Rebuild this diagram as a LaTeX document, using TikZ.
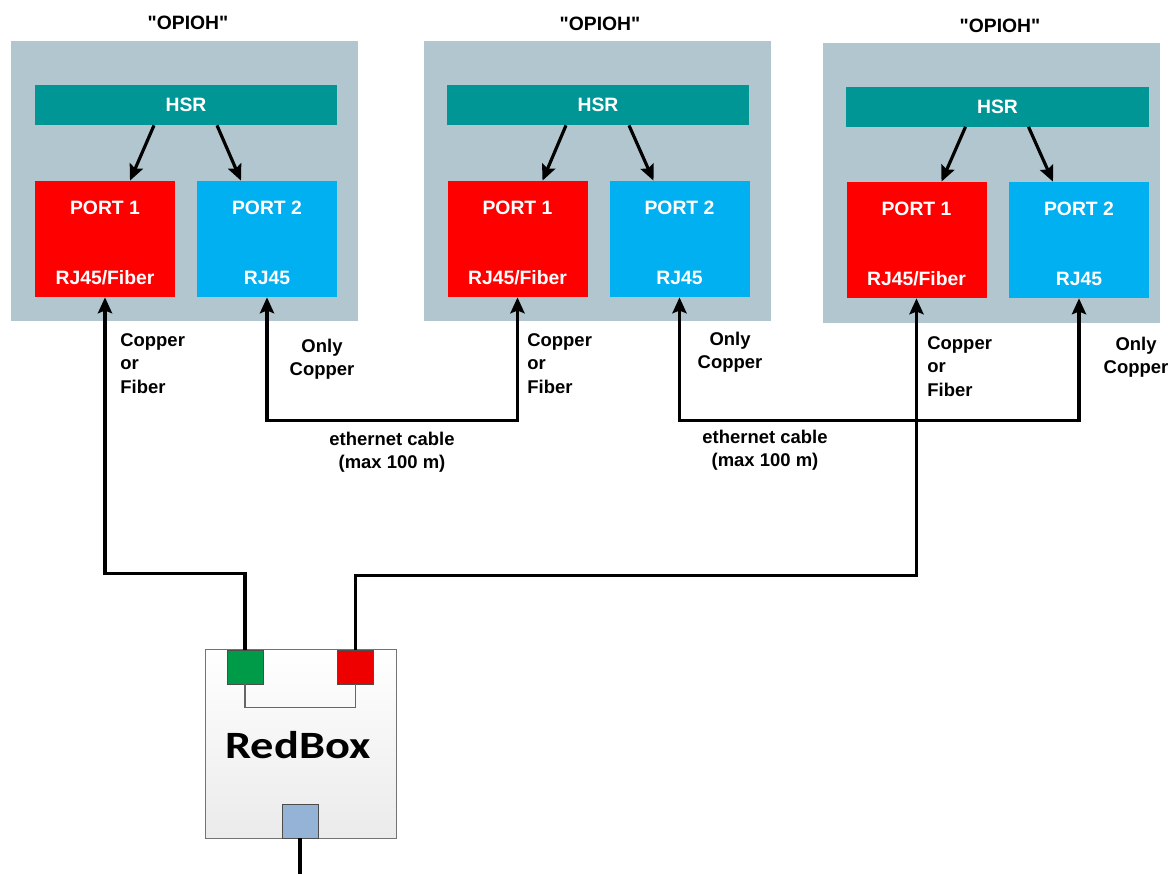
\documentclass[tikz,border=0pt]{standalone}
\usepackage{fontspec}
\setmainfont{Liberation Sans}[Ligatures=TeXOff]
\newfontfamily\carlito{Carlito}
\usetikzlibrary{positioning,arrows.meta}
\definecolor{modgray}{RGB}{177,198,206}
\definecolor{hsrteal}{RGB}{0,150,150}
\definecolor{portred}{RGB}{255,0,0}
\definecolor{portblue}{RGB}{0,176,240}
\definecolor{rbgreen}{RGB}{0,155,72}
\definecolor{rbred}{RGB}{238,0,0}
\definecolor{rbblue}{RGB}{149,179,215}

\begin{document}
\begin{tikzpicture}[
    module/.style={rectangle, fill=modgray, minimum width=6.94cm, minimum height=5.6cm},
    hsr/.style={rectangle, fill=hsrteal, minimum width=6.04cm, minimum height=0.8cm, text=white, font=\fontsize{11}{13}\selectfont\bfseries},
    port/.style={rectangle, minimum width=2.8cm, minimum height=2.32cm},
    ptext/.style={inner sep=0pt, text height=8pt, text depth=0pt, text=white, font=\fontsize{11}{13}\selectfont\bfseries},
    modtitle/.style={font=\fontsize{11}{13}\selectfont\bfseries},
    lbl/.style={inner sep=0pt, align=left, font=\fontsize{10.5}{13.4}\selectfont\bfseries},
    clbl/.style={inner sep=0pt, align=center, font=\fontsize{10.5}{13.4}\selectfont\bfseries},
    arrow/.style={-{Stealth[length=9pt,width=8pt,inset=1.5pt]}, line width=1.8pt},
    cable/.style={-{Stealth[length=9pt,width=8pt,inset=1.5pt]}, line width=2pt},
    duplex/.style={{Stealth[length=9pt,width=8pt,inset=1.5pt]}-{Stealth[length=9pt,width=8pt,inset=1.5pt]}, line width=2pt},
    minibox/.style={rectangle, draw=black!70, minimum width=0.72cm, minimum height=0.68cm}
]
    \useasboundingbox (0,0) rectangle (23.4,-17.48);

    % Node 1
    \node[module] (m1) at (3.69,-3.62) {};
    \node[modtitle] (t1) at (3.76,-0.46) {"OPIOH"};
    \node[hsr] (h1) at (3.72,-2.1) {HSR};
    \node[port, fill=portred] (p11) at (2.1,-4.78) {};
    \node[port, fill=portblue] (p12) at (5.34,-4.78) {};
    \node[ptext, below=0.38cm of p11.north] (p11t) {PORT 1};
    \node[ptext, above=0.26cm of p11.south] (p11b) {RJ45/Fiber};
    \node[ptext, below=0.38cm of p12.north] (p12t) {PORT 2};
    \node[ptext, above=0.26cm of p12.south] (p12b) {RJ45};
    \draw[arrow] ([xshift=-0.64cm]h1.south) -- ([xshift=0.5cm]p11.north);
    \draw[arrow] ([xshift=0.62cm]h1.south) -- ([xshift=-0.52cm]p12.north);

    % Node 2
    \node[module] (m2) at (11.94,-3.62) {};
    \node[modtitle] (t2) at (12.0,-0.48) {"OPIOH"};
    \node[hsr] (h2) at (11.96,-2.1) {HSR};
    \node[port, fill=portred] (p21) at (10.35,-4.78) {};
    \node[port, fill=portblue] (p22) at (13.59,-4.78) {};
    \node[ptext, below=0.38cm of p21.north] (p21t) {PORT 1};
    \node[ptext, above=0.26cm of p21.south] (p21b) {RJ45/Fiber};
    \node[ptext, below=0.38cm of p22.north] (p22t) {PORT 2};
    \node[ptext, above=0.26cm of p22.south] (p22b) {RJ45};
    \draw[arrow] ([xshift=-0.64cm]h2.south) -- ([xshift=0.5cm]p21.north);
    \draw[arrow] ([xshift=0.62cm]h2.south) -- ([xshift=-0.52cm]p22.north);

    % Node 3
    \node[module, minimum width=6.74cm] (m3) at (19.83,-3.65) {};
    \node[modtitle] (t3) at (20.0,-0.52) {"OPIOH"};
    \node[hsr, minimum width=6.06cm] (h3) at (19.95,-2.13) {HSR};
    \node[port, fill=portred] (p31) at (18.33,-4.8) {};
    \node[port, fill=portblue] (p32) at (21.58,-4.8) {};
    \node[ptext, below=0.38cm of p31.north] (p31t) {PORT 1};
    \node[ptext, above=0.26cm of p31.south] (p31b) {RJ45/Fiber};
    \node[ptext, below=0.38cm of p32.north] (p32t) {PORT 2};
    \node[ptext, above=0.26cm of p32.south] (p32b) {RJ45};
    \draw[arrow] ([xshift=-0.64cm]h3.south) -- ([xshift=0.5cm]p31.north);
    \draw[arrow] ([xshift=0.62cm]h3.south) -- ([xshift=-0.52cm]p32.north);

    % cable labels
    \node[lbl, anchor=north west] (c1) at (2.4,-6.66) {Copper\\or\\Fiber};
    \node[lbl, anchor=north west] (c2) at (10.54,-6.66) {Copper\\or\\Fiber};
    \node[lbl, anchor=north west] (c3) at (18.54,-6.72) {Copper\\or\\Fiber};
    \node[clbl] (o1) at (6.44,-7.18) {Only\\Copper};
    \node[clbl] (o2) at (14.6,-7.04) {Only\\Copper};
    \node[clbl] (o3) at (22.72,-7.14) {Only\\Copper};
    \node[clbl] (e1) at (7.84,-9.04) {ethernet cable\\(max 100 m)};
    \node[clbl] (e2) at (15.3,-9.0) {ethernet cable\\(max 100 m)};

    % RedBox
    \node[rectangle, draw=black!55, top color=white, bottom color=black!8, minimum width=3.82cm, minimum height=3.78cm] (rb) at (6.01,-14.88) {};
    \node[font=\carlito\bfseries\fontsize{22}{26}\selectfont] (rbt) at (5.96,-14.9) {\scalebox{1.2}[1]{RedBox}};
    \node[minibox, fill=rbgreen] (gp) at (4.9,-13.34) {};
    \node[minibox, fill=rbred] (rp) at (7.11,-13.34) {};
    \node[minibox, fill=rbblue] (bp) at (6.0,-16.42) {};
    \draw[black!60, line width=0.6pt] (gp.south) -- ++(0,-0.46) -| (rp.south);
    \coordinate (feed) at (6.0,-17.48);
    \draw[line width=2.8pt] (bp.south) -- (feed);

    % cables
    \draw[cable] (gp.north) -- ++(0,1.52) -| (p11.south);
    \draw[cable] (rp.north) -- ++(0,1.48) -| (p31.south);
    \draw[duplex] (p12.south) -- ++(0,-2.46) -| (p21.south);
    \draw[duplex] (p22.south) -- ++(0,-2.46) -| (p32.south);
\end{tikzpicture}
\end{document}
